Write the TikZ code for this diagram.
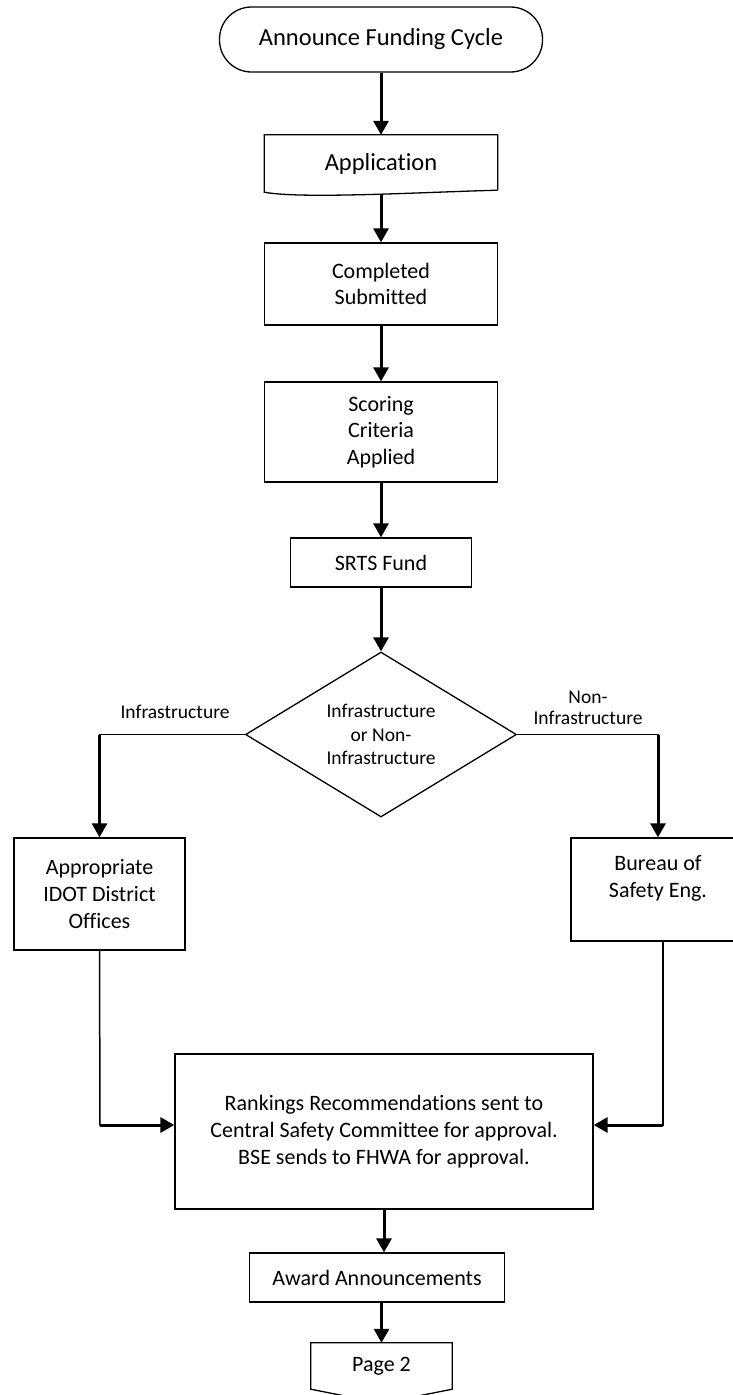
\documentclass[tikz,border=0pt]{standalone}
\usepackage{fontspec}
\setmainfont{Carlito}[Ligatures={NoCommon,NoContextual}]
\usetikzlibrary{arrows.meta,shapes.geometric}
\newcommand\fsbig{\fontsize{24.5}{30}\selectfont}
\newcommand\fsmain{\fontsize{22}{26.8}\selectfont}
\newcommand\fssmall{\fontsize{19.5}{23.5}\selectfont}
\newcommand\fslbl{\fontsize{19.5}{21}\selectfont}
\begin{document}
\begin{tikzpicture}[x=1pt,y=-1pt,
  box/.style={draw,line width=1.3pt,rectangle,inner sep=0pt,align=center,font=\fsmain},
  plain/.style={inner sep=0pt,align=center},
  arr/.style={line width=3pt,-{Triangle[length=14pt,width=15pt]}},
  thinln/.style={line width=1.5pt,line cap=rect},
  shapeln/.style={line width=1.3pt,line join=miter}
]
\useasboundingbox (0,0) rectangle (733,1395);
\clip (0,0) rectangle (733,1395);

% nodes
\node[box, rounded corners=32pt, minimum width=323pt, minimum height=65pt, font=\fsbig] (term) at (381,39.5) {Announce Funding Cycle};
\node[plain, minimum width=233pt, minimum height=57pt, font=\fsbig] (app) at (381,163.5) {Application};
\draw[shapeln] ([yshift=2pt]app.south east) -- (app.north east) -- (app.north west) -- (app.south west)
  .. controls ([xshift=37pt,yshift=-7pt]app.south west) and ([xshift=-76pt]app.south east) .. ([yshift=2pt]app.south east);
\node[box, minimum width=233pt, minimum height=82pt] (comp) at (381,284) {Completed\\Submitted};
\node[box, minimum width=233pt, minimum height=100pt] (score) at (381,432) {Scoring\\Criteria\\Applied};
\node[box, minimum width=181pt, minimum height=49pt] (srts) at (381,562.5) {SRTS Fund};
\node[draw, diamond, aspect=1.64, line width=1.3pt, minimum width=271pt, minimum height=165pt,
      inner sep=0pt, align=center, font=\fssmall] (dia) at (381,734.5) {Infrastructure\\or Non-\\Infrastructure};
\node[plain, font=\fssmall] (lblL) at (175,712) {Infrastructure};
\node[plain, font=\fslbl] (lblR) at (588,707.5) {Non-\\Infrastructure};
\node[box, minimum width=171pt, minimum height=112pt] (appr) at (99.5,894) {Appropriate\\IDOT District\\Offices};
\node[box, minimum width=174pt, minimum height=103pt] (bur) at (658,889.5) {Bureau of\\Safety Eng.\\\mbox{}};
\node[box, minimum width=418pt, minimum height=155pt] (rank) at (384,1131.5) {Rankings Recommendations sent to\\Central Safety Committee for approval.\\BSE sends to FHWA for approval.};
\node[box, minimum width=255pt, minimum height=49pt] (award) at (377,1277.5) {Award Announcements};
\node[plain, minimum width=141pt, minimum height=46pt, font=\fsmain] (pg) at (381.5,1366) {Page 2};
\draw[shapeln] (pg.south west) -- (pg.north west) -- (pg.north east) -- (pg.south east) -- ([yshift=-14pt]pg.south) -- cycle;

% connectors
\draw[arr] (term.south) -- (app.north);
\draw[arr] ([yshift=-2pt]app.south) -- (comp.north);
\draw[arr] (comp.south) -- (score.north);
\draw[arr] (score.south) -- (srts.north);
\draw[arr] (srts.south) -- (dia.north);

\coordinate (cL) at (dia.west -| appr.north);
\draw[thinln] (dia.west) -- (cL);
\draw[arr] (cL) -- (appr.north);
\coordinate (cR) at (dia.east -| bur.north);
\draw[thinln] (dia.east) -- (cR);
\draw[arr] (cR) -- (bur.north);

\coordinate (cL2) at (100,1125);
\draw[thinln] (appr.south) -- (cL2);
\draw[arr] (cL2) -- (cL2 -| rank.west);
\coordinate (bR) at ([xshift=5pt]bur.south);
\coordinate (cR2) at (663,1125);
\draw[thinln] (bR) -- (cR2);
\draw[arr] (cR2) -- (cR2 -| rank.east);

\draw[arr] (rank.south) -- (rank.south |- award.north);
\draw[arr] (award.south -| pg.north) -- (pg.north);
\end{tikzpicture}
\end{document}
